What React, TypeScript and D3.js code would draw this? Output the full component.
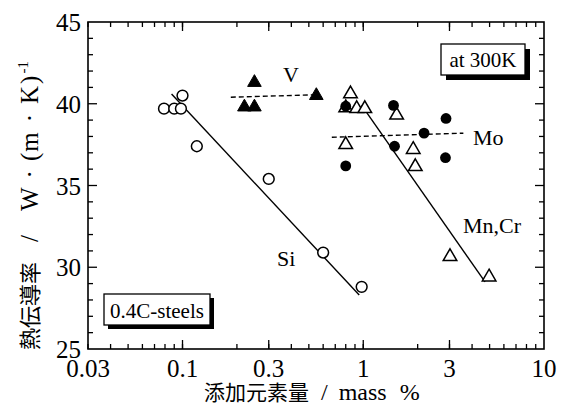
import React from "react";
import * as d3 from "d3";

// values (x: mass %, y: W/(m·K))
const siPoints: [number, number][] = [
  [0.079, 39.7], [0.09, 39.7], [0.098, 39.7], [0.1, 40.5],
  [0.12, 37.4], [0.3, 35.4], [0.6, 30.9], [0.98, 28.8],
];
const vPoints: [number, number][] = [
  [0.22, 39.8], [0.25, 39.8], [0.25, 41.3], [0.55, 40.5],
];
const mnCrPoints: [number, number][] = [
  [0.85, 40.6], [0.8, 39.75], [0.92, 39.7], [1.02, 39.7], [1.53, 39.3],
  [0.8, 37.5], [1.89, 37.2], [1.94, 36.15], [3.02, 30.65], [4.97, 29.4],
];
const moPoints: [number, number][] = [
  [0.8, 39.85], [1.47, 39.9], [1.49, 37.4], [0.8, 36.2],
  [2.17, 38.2], [2.87, 39.1], [2.85, 36.7],
];
const siFit: [number, number][] = [[0.087, 40.6], [0.95, 28.3]];
const mnCrFit: [number, number][] = [[0.98, 39.9], [4.72, 29.1]];
const vFit: [number, number][] = [[0.185, 40.4], [0.55, 40.55]];
const moFit: [number, number][] = [[0.67, 37.95], [3.58, 38.2]];

const xTickLabels = [0.03, 0.1, 0.3, 1, 3, 10];
const yTickLabels = [25, 30, 35, 40, 45];

const W = 567, H = 407;
const L = 88, R = 544, T = 22, B = 349;
const serif = "'Liberation Serif', 'DejaVu Serif', serif";
const cjk = "'Noto Sans CJK JP', sans-serif";

export default function App() {
  const x = d3.scaleLog().domain([0.03, 10]).range([L, R]);
  const y = d3.scaleLinear().domain([25, 45]).range([B, T]);

  // minor x ticks: every integer multiple in each decade
  const xMinor: number[] = [];
  [0.01, 0.1, 1].forEach((d) => {
    for (let k = 1; k <= 9; k++) {
      const v = +(d * k).toPrecision(3);
      if (v >= 0.03 && v <= 10) xMinor.push(v);
    }
  });
  const xMajor = [0.1, 0.3, 1, 3];
  const yMinor = d3.range(26, 45, 1).filter((v) => v % 5 !== 0);
  const yMajor = [30, 35, 40];

  const line = d3.line<[number, number]>().x((d) => x(d[0])).y((d) => y(d[1]));
  const tri = d3.symbol(d3.symbolTriangle, 80)()!;

  return (
    <svg width={W} height={H} style={{ position: "absolute", left: 0, top: 0, background: "#fff" }}>
      {/* fit lines */}
      <path d={line(siFit)!} stroke="#000" strokeWidth={1.4} fill="none" />
      <path d={line(mnCrFit)!} stroke="#000" strokeWidth={1.4} fill="none" />
      <path d={line(vFit)!} stroke="#000" strokeWidth={1.4} fill="none" strokeDasharray="5,3" />
      <path d={line(moFit)!} stroke="#000" strokeWidth={1.4} fill="none" strokeDasharray="5,3" />

      {/* markers */}
      {siPoints.map((d, i) => (
        <circle key={"si" + i} cx={x(d[0])} cy={y(d[1])} r={5.4} fill="#fff" stroke="#000" strokeWidth={1.5} />
      ))}
      {mnCrPoints.map((d, i) => (
        <path key={"mn" + i} d={tri} transform={`translate(${x(d[0])},${y(d[1])})`} fill="#fff" stroke="#000" strokeWidth={1.5} />
      ))}
      {moPoints.map((d, i) => (
        <circle key={"mo" + i} cx={x(d[0])} cy={y(d[1])} r={5.4} fill="#000" />
      ))}
      {vPoints.map((d, i) => (
        <path key={"v" + i} d={tri} transform={`translate(${x(d[0])},${y(d[1])})`} fill="#000" stroke="#000" strokeWidth={1} />
      ))}

      {/* series labels */}
      <g fontFamily={serif} fontSize={22} fill="#000">
        <text x={283} y={82}>V</text>
        <text x={473} y={145}>Mo</text>
        <text x={463} y={233}>Mn,Cr</text>
        <text x={277} y={266}>Si</text>
      </g>

      {/* frame */}
      <rect x={L} y={T} width={R - L} height={B - T} fill="none" stroke="#000" strokeWidth={1.6} />

      {/* ticks */}
      <g stroke="#000" strokeWidth={1.3}>
        {xMinor.map((v) => (
          <g key={"xm" + v}>
            <line x1={x(v)} x2={x(v)} y1={B} y2={B - 5} />
            <line x1={x(v)} x2={x(v)} y1={T} y2={T + 5} />
          </g>
        ))}
        {xMajor.map((v) => (
          <g key={"xM" + v}>
            <line x1={x(v)} x2={x(v)} y1={B} y2={B - 9} />
            <line x1={x(v)} x2={x(v)} y1={T} y2={T + 9} />
          </g>
        ))}
        {yMinor.map((v) => (
          <g key={"ym" + v}>
            <line x1={L} x2={L + 5} y1={y(v)} y2={y(v)} />
            <line x1={R} x2={R - 5} y1={y(v)} y2={y(v)} />
          </g>
        ))}
        {yMajor.map((v) => (
          <g key={"yM" + v}>
            <line x1={L} x2={L + 9} y1={y(v)} y2={y(v)} />
            <line x1={R} x2={R - 9} y1={y(v)} y2={y(v)} />
          </g>
        ))}
      </g>

      {/* tick labels */}
      <g fontFamily={serif} fontSize={25} fill="#000">
        {yTickLabels.map((v) => (
          <text key={"yl" + v} x={L - 7} y={y(v) + 9} textAnchor="end">{v}</text>
        ))}
        {xTickLabels.map((v) => (
          <text key={"xl" + v} x={x(v)} y={377} textAnchor="middle">{v}</text>
        ))}
      </g>

      {/* annotation boxes */}
      <rect x={446} y={49} width={84} height={31} fill="#000" />
      <rect x={441} y={44} width={84} height={31} fill="#fff" stroke="#000" strokeWidth={1.3} />
      <text x={483} y={67} textAnchor="middle" fontFamily={serif} fontSize={21}>at 300K</text>

      <rect x={108} y={298} width={106} height={31} fill="#000" />
      <rect x={104} y={294} width={106} height={31} fill="#fff" stroke="#000" strokeWidth={1.3} />
      <text x={157} y={318} textAnchor="middle" fontFamily={serif} fontSize={21}>0.4C-steels</text>

      {/* axis titles */}
      <text x={204} y={400} fontSize={24} fill="#000" fontFamily={serif}>
        <tspan fontFamily={cjk} fontSize={21}>添加元素量</tspan>
        <tspan dx={12}>/</tspan>
        <tspan dx={11}>mass</tspan>
        <tspan dx={13}>%</tspan>
      </text>
      <text transform={`translate(38,350) rotate(-90)`} x={0} y={0} fontSize={25} fill="#000" fontFamily={serif}>
        <tspan fontFamily={cjk} fontSize={22}>熱伝導率</tspan>
        <tspan dx={20}>/</tspan>
        <tspan dx={24}>W</tspan>
        <tspan dx={9}>·</tspan>
        <tspan dx={9}>(</tspan>
        <tspan dx={1}>m</tspan>
        <tspan dx={10}>·</tspan>
        <tspan dx={10}>K</tspan>
        <tspan dx={2}>)</tspan>
        <tspan dx={2} dy={-10} fontSize={15}>-1</tspan>
      </text>
    </svg>
  );
}
